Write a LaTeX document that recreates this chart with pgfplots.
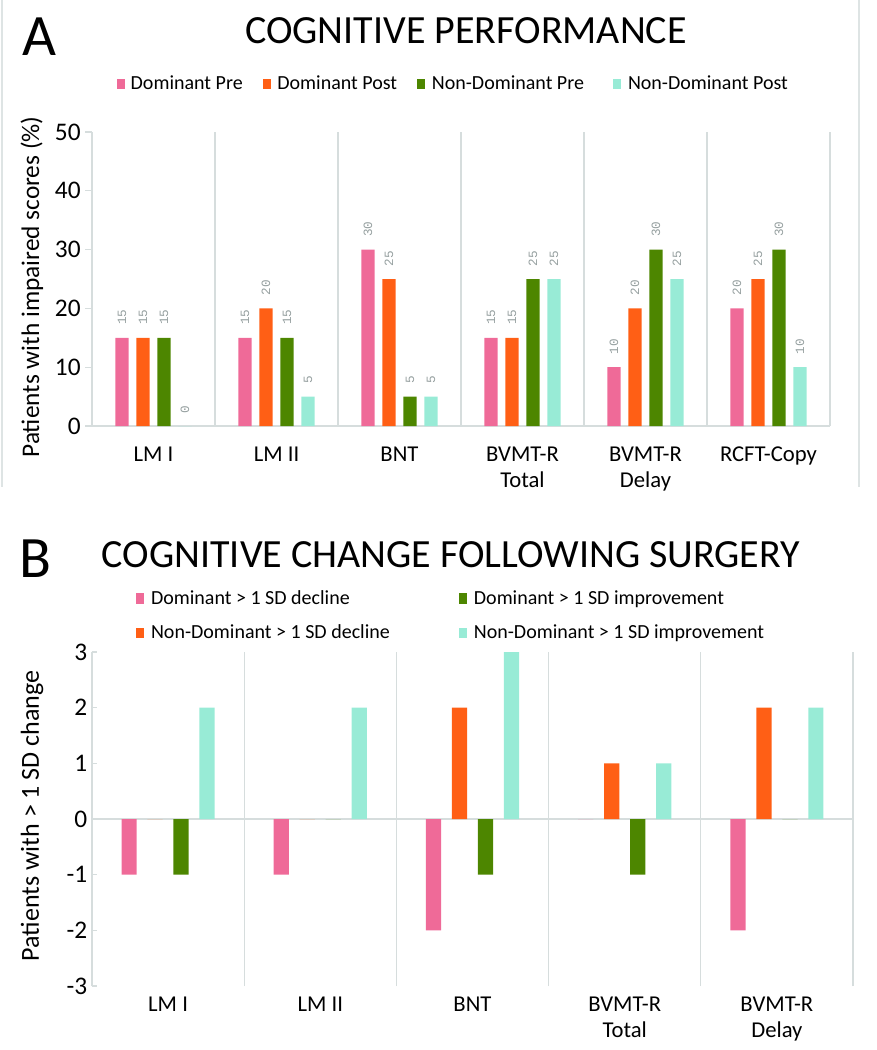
\documentclass[border=0pt]{standalone}
\usepackage{pgfplots}
\pgfplotsset{compat=1.18}
\usepackage{fontspec}
\setmainfont{Carlito}
\newfontfamily\valfont{Liberation Mono}
\definecolor{cpink}{RGB}{239,106,152}
\definecolor{corange}{RGB}{255,95,21}
\definecolor{cgreen}{RGB}{77,134,0}
\definecolor{ccyan}{RGB}{152,235,214}
\definecolor{cline}{RGB}{214,221,221}
\definecolor{cval}{RGB}{150,160,160}
\definecolor{cframe}{RGB}{222,228,228}

\pgfplotsset{
  common/.style={
    scale only axis,
    ybar,
    axis x line*=bottom, axis y line*=left,
    /pgf/number format/assume math mode=true,
    yticklabel style={font=\fontsize{19}{22}\selectfont},
    xticklabel style={align=center, font=\fontsize{17}{20}\selectfont},
    xtick style={draw=none},
    ytick style={draw=cline, line width=0.8pt},
    extra x tick labels={},
    extra x tick style={grid=major, major grid style={draw=cline, line width=0.8pt}},
    legend image code/.code={\fill[##1] (0pt,-4pt) rectangle (6pt,4pt);},
    legend cell align=left,
    every axis y label/.style={rotate=90, anchor=center, font=\fontsize{19}{22}\selectfont},
  },
}

\begin{document}
\begin{tikzpicture}
\begin{scope}[x=0.75pt,y=-0.75pt]
\path[use as bounding box] (0,0) rectangle (876,1050);
\draw[cframe, line width=0.8pt] (2,0) -- (2,487);
\draw[cframe, line width=0.8pt] (859,0) -- (859,487);
\node[anchor=base, font=\fontsize{44}{50}\selectfont] at (39,55) {A};
\node[anchor=base, font=\fontsize{30}{36}\selectfont] at (466,43) {COGNITIVE PERFORMANCE};
\node[anchor=base, font=\fontsize{44}{50}\selectfont] at (35,577) {B};
\node[anchor=base, font=\fontsize{30}{36}\selectfont] at (451,567) {COGNITIVE CHANGE FOLLOWING SURGERY};
\end{scope}

% ---------------- Panel A ----------------
\begin{axis}[common,
  at={(69pt,-319.5pt)}, anchor=south west,
  width=553.5pt, height=220.5pt,
  xmin=-0.5, xmax=5.5, ymin=0, ymax=50,
  bar width=0.106,
  axis line style={draw=cline, line width=0.8pt},
  ytick={0,10,20,30,40,50},
  tick align=outside, major tick length=5pt,
  xtick={0,1,2,3,4,5},
  xticklabels={LM I, LM II, BNT, {BVMT-R\\Total}, {BVMT-R\\Delay}, RCFT-Copy},
  xticklabel style={yshift=-7pt},
  extra x ticks={0.5,1.5,2.5,3.5,4.5,5.5},
  ylabel={Patients with impaired scores (\%)},
  every axis y label/.append style={at={(axis description cs:-0.0813,0.473)}},
  nodes near coords={\pgfmathprintnumber[assume math mode=true]{\pgfplotspointmeta}},
  every node near coord/.append style={rotate=90, anchor=west, font=\valfont\fontsize{9.5}{10}\selectfont, text=cval, inner xsep=9.5pt, inner ysep=0pt},
  legend columns=4,
  legend style={at={(0.034,1.163)}, anchor=west, draw=none, fill=none, inner sep=0pt,
    font=\fontsize{15}{17}\selectfont,
    nodes={inner xsep=2pt},
    /tikz/every even column/.append style={column sep=13pt}},
]
\addplot[fill=cpink, draw=none, bar shift=-0.256] coordinates {(0,15) (1,15) (2,30) (3,15) (4,10) (5,20)};
\addlegendentry{\hspace*{2pt}Dominant Pre}
\addplot[fill=corange, draw=none, bar shift=-0.0854] coordinates {(0,15) (1,20) (2,25) (3,15) (4,20) (5,25)};
\addlegendentry{\hspace*{3pt}Dominant Post}
\addplot[fill=cgreen, draw=none, bar shift=0.0854] coordinates {(0,15) (1,15) (2,5) (3,25) (4,30) (5,30)};
\addlegendentry{\hspace*{3pt}Non-Dominant Pre\rule{7pt}{0pt}}
\addplot[fill=ccyan, draw=none, bar shift=0.256] coordinates {(0,0) (1,5) (2,5) (3,25) (4,25) (5,10)};
\addlegendentry{\hspace*{3pt}Non-Dominant Post}
\end{axis}

% ---------------- Panel B ----------------
\begin{axis}[common,
  at={(69pt,-739.5pt)}, anchor=south west,
  width=570.75pt, height=250.5pt,
  xmin=-0.5, xmax=4.5, ymin=-3, ymax=3,
  bar width=0.1,
  x axis line style={draw=none},
  y axis line style={draw=cline, line width=0.8pt},
  ytick={-3,-2,-1,0,1,2,3},
  tick align=inside, major tick length=4pt,
  xtick={0,1,2,3,4},
  xticklabels={LM I, LM II, BNT, {BVMT-R\\Total}, {BVMT-R\\Delay}},
  xticklabel style={yshift=-4.5pt},
  extra x ticks={0.5,1.5,2.5,3.5,4.5},
  extra y ticks={0}, extra y tick labels={},
  extra y tick style={grid=major, major grid style={draw=cline, line width=0.8pt}},
  ylabel={Patients with > 1 SD change},
  every axis y label/.append style={at={(axis description cs:-0.0788,0.509)}, font=\fontsize{19.5}{22}\selectfont},
  legend columns=2,
  legend style={at={(0.058,1.109)}, anchor=west, draw=none, fill=none, inner sep=0pt,
    font=\fontsize{15}{17}\selectfont,
    nodes={inner xsep=2pt},
    row sep=10pt,
    /tikz/every even column/.append style={column sep=50pt}},
]
\addplot[fill=cpink, draw=none, bar shift=-0.256] coordinates {(0,-1) (1,-1) (2,-2) (3,0) (4,-2)};
\addlegendentry{\hspace*{3pt}Dominant > 1 SD decline}
\addplot[fill=cgreen, draw=none, bar shift=0.0854] coordinates {(0,-1) (1,0) (2,-1) (3,-1) (4,0)};
\addlegendentry{\hspace*{3pt}Dominant > 1 SD improvement}
\addplot[fill=corange, draw=none, bar shift=-0.0854] coordinates {(0,0) (1,0) (2,2) (3,1) (4,2)};
\addlegendentry{\hspace*{3pt}Non-Dominant > 1 SD decline}
\addplot[fill=ccyan, draw=none, bar shift=0.256] coordinates {(0,2) (1,2) (2,3) (3,1) (4,2)};
\addlegendentry{\hspace*{3pt}Non-Dominant > 1 SD improvement}
\end{axis}
\end{tikzpicture}
\end{document}
